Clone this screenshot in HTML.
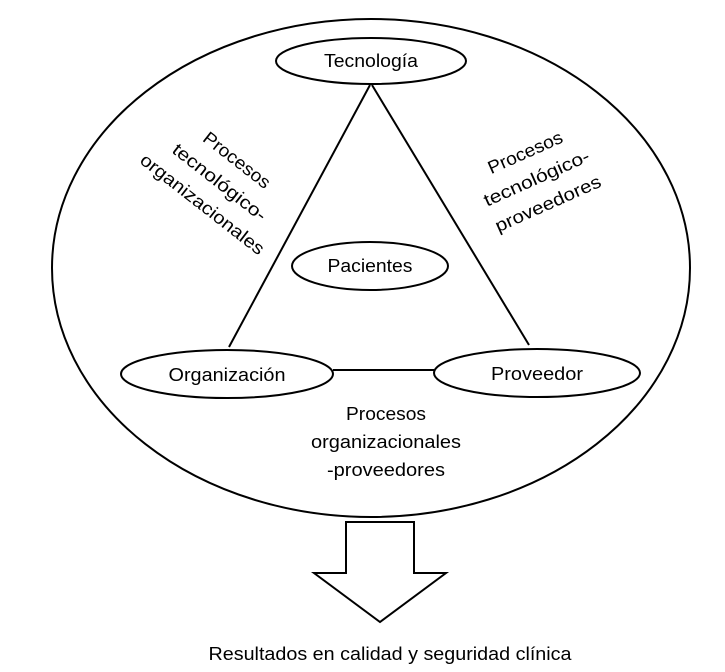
<!DOCTYPE html>
<html><head><meta charset="utf-8"><style>html,body{margin:0;padding:0;background:#fff}svg{display:block}</style></head>
<body>
<svg width="725" height="672" viewBox="0 0 725 672" xmlns="http://www.w3.org/2000/svg" font-family="Liberation Sans, sans-serif" font-size="18" fill="#000">
<g fill="none" stroke="#000" stroke-width="2">
<ellipse cx="371" cy="268" rx="319" ry="249"/>
<line x1="370" y1="85" x2="229" y2="347"/>
<line x1="372" y1="85" x2="529" y2="345"/>
<line x1="333" y1="370" x2="434" y2="370"/>
<ellipse cx="371" cy="61" rx="95" ry="23" fill="#fff"/>
<ellipse cx="370" cy="266" rx="78" ry="24" fill="#fff"/>
<ellipse cx="227" cy="374" rx="106" ry="24" fill="#fff"/>
<ellipse cx="537" cy="373" rx="103" ry="24" fill="#fff"/>
<polygon points="346,522 414,522 414,573 446,573 380,622 314,573 346,573" fill="#fff"/>
</g>
<text x="371" y="67" text-anchor="middle" textLength="94" lengthAdjust="spacingAndGlyphs">Tecnología</text>
<text x="370" y="272" text-anchor="middle" textLength="85" lengthAdjust="spacingAndGlyphs">Pacientes</text>
<text x="227" y="381" text-anchor="middle" textLength="117" lengthAdjust="spacingAndGlyphs">Organización</text>
<text x="537" y="380" text-anchor="middle" textLength="92" lengthAdjust="spacingAndGlyphs">Proveedor</text>
<text x="386" y="420" text-anchor="middle" textLength="80" lengthAdjust="spacingAndGlyphs">Procesos</text>
<text x="386" y="448" text-anchor="middle" textLength="150" lengthAdjust="spacingAndGlyphs">organizacionales</text>
<text x="386" y="476" text-anchor="middle" textLength="118" lengthAdjust="spacingAndGlyphs">-proveedores</text>
<text x="390" y="660" text-anchor="middle" textLength="363" lengthAdjust="spacingAndGlyphs">Resultados en calidad y seguridad clínica</text>
<g transform="translate(219,183) rotate(38)" text-anchor="middle">
<text x="0" y="-23" textLength="80" lengthAdjust="spacingAndGlyphs">Procesos</text>
<text x="0" y="5" textLength="114" lengthAdjust="spacingAndGlyphs">tecnológico-</text>
<text x="0" y="33" textLength="152" lengthAdjust="spacingAndGlyphs">organizacionales</text>
</g>
<g transform="translate(537,179) rotate(-24)" text-anchor="middle">
<text x="0" y="-23" textLength="80" lengthAdjust="spacingAndGlyphs">Procesos</text>
<text x="0" y="5" textLength="114" lengthAdjust="spacingAndGlyphs">tecnológico-</text>
<text x="0" y="33" textLength="114" lengthAdjust="spacingAndGlyphs">proveedores</text>
</g>
</svg>
</body></html>
